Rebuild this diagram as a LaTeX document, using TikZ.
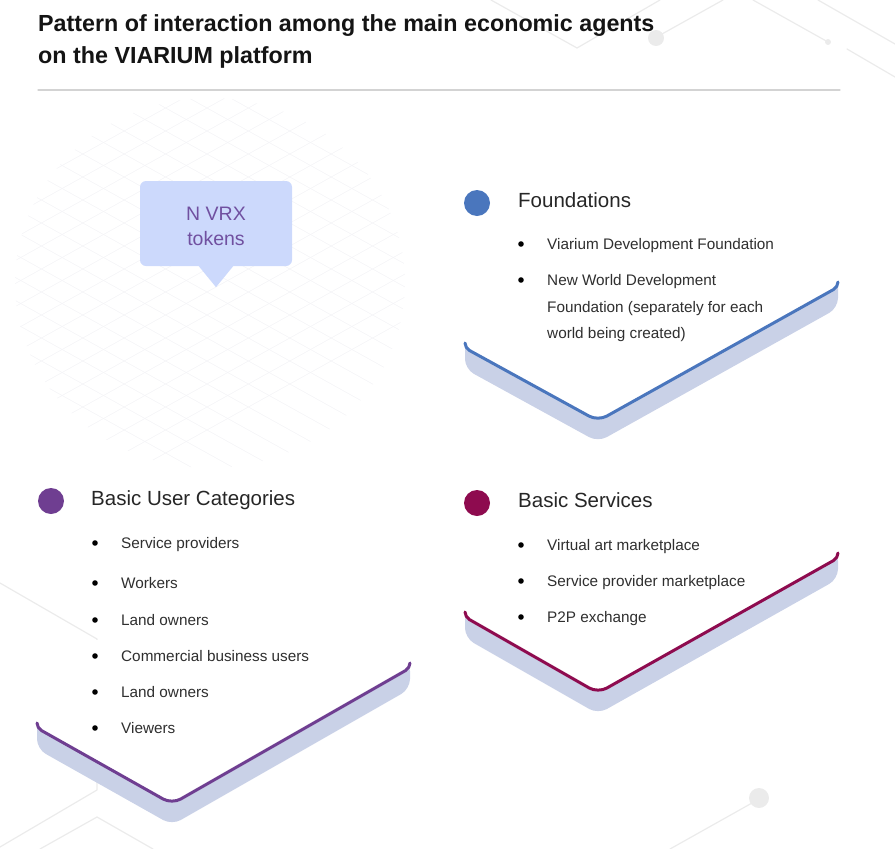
\documentclass[tikz,border=0pt]{standalone}
\usepackage{fontspec}
\setmainfont{Liberation Sans}
\usetikzlibrary{positioning}
\definecolor{fndblue}{HTML}{4A76BD}
\definecolor{userpurple}{HTML}{6F3E91}
\definecolor{servred}{HTML}{8E0B4F}
\definecolor{shadowgray}{HTML}{C9D1E7}
\definecolor{bubblefill}{HTML}{CCD9FC}
\definecolor{bubbletext}{HTML}{7050A0}
\definecolor{bgline}{HTML}{EBEBEB}
\definecolor{gridline}{HTML}{F4F4F7}
\definecolor{rulegray}{HTML}{D3D3D3}
\definecolor{bodytext}{HTML}{2F2F2F}
\tikzset{
	title/.style={anchor=base west, inner sep=0pt, text=black!92, font=\fontsize{23.3}{32}\selectfont\bfseries},
	heading/.style={anchor=mid west, inner sep=0pt, text=black!85, font=\fontsize{20.5}{24}\selectfont},
	item/.style={anchor=mid west, inner sep=0pt, text=bodytext, font=\fontsize{15.3}{17}\selectfont},
	bubble/.style={fill=bubblefill, rounded corners=6pt, minimum width=152pt, minimum height=85pt, inner sep=0pt},
	bubbletxt/.style={inner sep=0pt, align=center, text=bubbletext, font=\fontsize{19.5}{25}\selectfont},
}
% card: left x, left y, tip x, tip y, right x, right y, top y, colour
\newcommand{\card}[8]{%
	\fill[shadowgray, rounded corners=10pt] (#1,#7+21) -- (#1,#2+21) -- (#3,#4+21) -- (#5,#6+21) -- (#5,#7+21) -- cycle;
	\fill[white, rounded corners=10pt] (#1-1.5,#7) -- (#1-1.5,#2) -- (#3,#4) -- (#5+1.5,#6) -- (#5+1.5,#7) -- cycle;
	\draw[#8, line width=3pt] (#1,#2-5) [rounded corners=5pt] -- (#1,#2) [rounded corners=10pt] -- (#3,#4) [rounded corners=5pt] -- (#5,#6) -- (#5,#6-5);
}
\begin{document}
\begin{tikzpicture}[x=1pt, y=-1pt, line join=round, line cap=round]
	\useasboundingbox (0,0) rectangle (895,849);
	%\draw[gray] (0,0) grid[step=50] (895,849);
	% background
	\begin{scope}
		\clip (210,283) ellipse [x radius=195, y radius=185];
		\foreach \c in {-260,-237,...,560}{
			\draw[gridline, line width=0.6pt] (0,\c) -- (450,\c+250);
			\draw[gridline, line width=0.6pt] (0,\c) -- (450,\c-250);
		}
	\end{scope}
	\begin{scope}[bgline, line width=1.2pt]
		\draw (491,0) -- (577,48) -- (660,0);
		\draw (662,34) -- (723,0);
		\fill (656,38) circle (8);
		\draw (753,0) -- (828,42);
		\fill (828,42) circle (3);
		\draw (818,0) -- (895,44);
		\draw (847,49) -- (895,77);
		\draw (0,583) -- (97,639) -- (97,790) -- (0,847);
		\draw (40,849) -- (97,817) -- (153,849);
		\draw (670,849) -- (752,803);
		\fill (759,798) circle (10);
	\end{scope}
	% title
	\node[title] (title1) at (38,31) {Pattern of interaction among the main economic agents};
	\node[title] (title2) at (38,63) {on the VIARIUM platform};
	\draw[rulegray, line width=1.2pt] (38,90) -- (840,90);
	% tokens bubble
	\node[bubble] (vrx) at (216,223.5) {};
	\fill[bubblefill] ([xshift=-18pt, yshift=1pt]vrx.south) -- ([xshift=18pt, yshift=1pt]vrx.south) -- ([yshift=-21pt]vrx.south) -- cycle;
	\node[bubbletxt] (vrxtext) at ([yshift=-2.5pt]vrx.center) {N VRX\\tokens};
	% Foundations
	\card{465}{348}{598}{421}{838}{287}{230}{fndblue}
	\fill[fndblue] (477,203) circle (13);
	\node[heading] (fnd) at (518,205) {Foundations};
	\foreach \y/\t [count=\i] in {244/Viarium Development Foundation, 280/New World Development}{
		\fill (521,\y) circle (2.8);
		\node[item] (fnd\i) at (547,\y+3) {\t};
	}
	\node[item] (fnd3) at (547,310) {Foundation (separately for each};
	\node[item] (fnd4) at (547,336) {world being created)};
	% Basic Services
	\card{465}{617}{598}{693}{838}{558}{530}{servred}
	\fill[servred] (477,503) circle (13);
	\node[heading] (serv) at (518,505) {Basic Services};
	\foreach \y/\t [count=\i] in {545/Virtual art marketplace, 581/Service provider marketplace, 617/P2P exchange}{
		\fill (521,\y) circle (2.8);
		\node[item] (serv\i) at (547,\y+3) {\t};
	}
	% Basic User Categories
	\card{37}{728}{172}{804}{410}{668}{640}{userpurple}
	\fill[userpurple] (51,501) circle (13);
	\node[heading] (user) at (91,503) {Basic User Categories};
	\foreach \y/\t [count=\i] in {543/Service providers, 583/Workers, 620/Land owners, 656/Commercial business users, 692/Land owners, 728/Viewers}{
		\fill (95,\y) circle (2.8);
		\node[item] (user\i) at (121,\y+3) {\t};
	}
\end{tikzpicture}
\end{document}
